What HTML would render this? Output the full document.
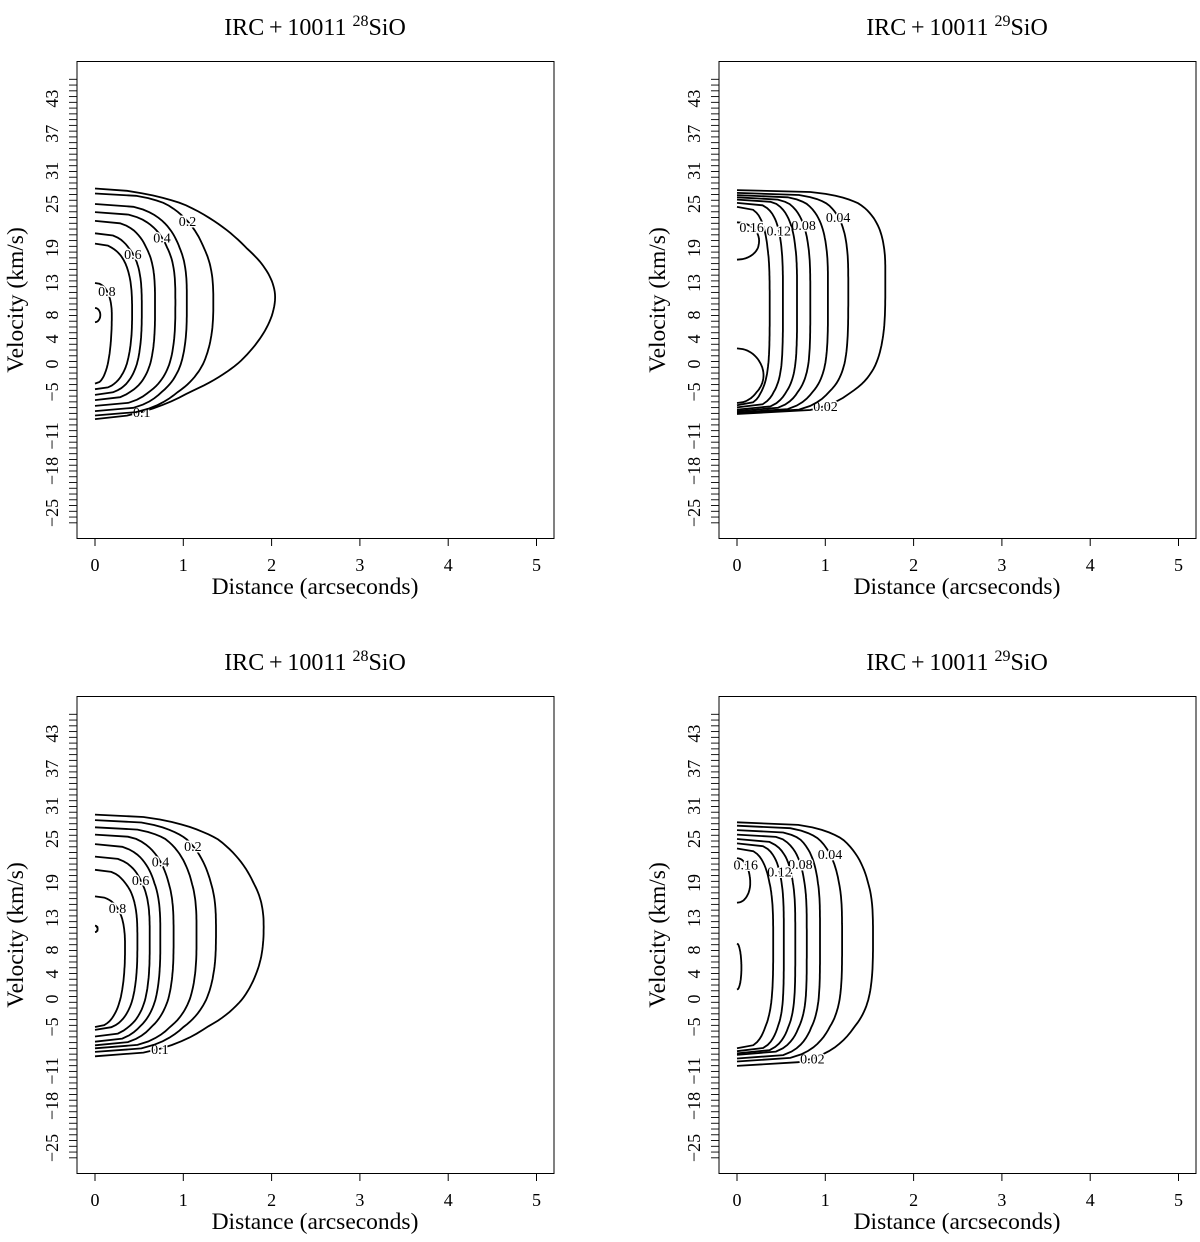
<!DOCTYPE html>
<html><head><meta charset="utf-8">
<style>
html,body{margin:0;padding:0;background:#fff;}
svg{display:block;font-family:"Liberation Serif","Times New Roman",serif;}
</style></head>
<body>
<svg id="fig" width="1200" height="1242" viewBox="0 0 1200 1242" xmlns="http://www.w3.org/2000/svg"></svg>
<script>
// ---- data ----
const xTickValues = [0,1,2,3,4,5];
const yTickLabels = ["43","37","31","25","19","13","8","4","0","\u22125","\u221211","\u221218","\u221225"];
const yTickVel = [43,37,31,25,19,13,8,4,0,-5,-11,-18,-25];
const panelTitles = ["28","29","28","29"];

// Top-left 28SiO contours
const tlLevels = ["0.1","0.2","0.3","0.4","0.5","0.6","0.7","0.8","0.9"];
const tlTop    = [27.8,26.9,25.0,23.9,22.7,21.0,19.6,13.0,9.1];
const tlBot    = [-8.7,-8.2,-7.6,-6.9,-6.1,-5.4,-4.5,-3.5,6.8];
const tlMid    = [10.8,10.0,10.0,10.0,9.5,9.0,8.5,8.0,8.0];
const tlDmax   = [2.04,1.34,1.04,0.91,0.68,0.53,0.42,0.19,0.06];
const tlShape  = [1.8,2.6,3.0,3.0,3.0,2.8,2.6,2.2,2];

// Top-right 29SiO contours
const trLevels = ["0.02","0.04","0.06","0.08","0.1","0.12","0.14","0.16","0.16"];
const trTop    = [27.5,27.0,26.6,26.2,25.8,25.2,24.6,22.5,2.5];
const trBot    = [-8.0,-7.9,-7.8,-7.6,-7.4,-7.1,-6.8,17.0,-6.5];
const trMid    = [14.0,12.0,11.0,10.0,10.0,10.0,9.0,20.0,-2.0];
const trDmax   = [1.68,1.26,1.03,0.83,0.68,0.52,0.37,0.25,0.30];
const trShape  = [3.5,4,4,4,4,4,3.5,2,2];

// Bottom-left 28SiO contours
const blLevels = ["0.1","0.2","0.3","0.4","0.5","0.6","0.7","0.8","0.9"];
const blTop    = [29.4,28.4,27.1,25.8,24.3,22.6,20.8,16.7,11.8];
const blBot    = [-9.0,-8.4,-7.9,-7.5,-7.0,-6.3,-5.4,-5.0,10.8];
const blMid    = [11.6,11.0,10.5,10.2,10.0,9.8,9.5,8.6,11.3];
const blDmax   = [1.91,1.37,1.15,0.89,0.74,0.62,0.48,0.34,0.03];
const blShape  = [2.3,2.8,3.0,3.0,3.0,3.0,2.8,2.4,2];

// Bottom-right 29SiO contours
const brLevels = ["0.02","0.04","0.06","0.08","0.1","0.12","0.14","0.16","0.16"];
const brTop    = [28.0,27.4,26.6,25.8,25.0,24.4,23.7,22.4,9.0];
const brBot    = [-10.3,-9.7,-9.3,-8.8,-8.6,-8.3,-7.9,15.6,1.5];
const brMid    = [9.9,9.5,9.5,9.0,9.0,9.0,9.0,19.0,5.0];
const brDmax   = [1.54,1.19,0.94,0.79,0.66,0.53,0.41,0.15,0.05];
const brShape  = [3.2,3.6,4,4,4,4,3.2,2,2];

// ---- layout ----
const NS="http://www.w3.org/2000/svg";
const svg=document.getElementById('fig');
const yTickPos=[98.6,133.8,170.7,204,248,283,315,339,364,392,436,471,513];
function mk(tag,attrs,parent){const e=document.createElementNS(NS,tag);for(const k in attrs)e.setAttribute(k,attrs[k]);(parent||svg).appendChild(e);return e;}
function xS(d){return 95+d*88.3;}
function yS(v){
  for(let i=0;i<yTickVel.length-1;i++){
    const a=yTickVel[i],b=yTickVel[i+1];
    if(v<=a&&v>=b){return yTickPos[i]+(a-v)/(a-b)*(yTickPos[i+1]-yTickPos[i]);}
  }
  if(v>yTickVel[0])return yTickPos[0]-(v-yTickVel[0])*5.8;
  return yTickPos[yTickPos.length-1]+(yTickVel[yTickVel.length-1]-v)*5.8;
}
const panels=[
 {ox:0,oy:0,lv:tlLevels,t:tlTop,b:tlBot,m:tlMid,d:tlDmax,p:tlShape,name:'panel-top-left'},
 {ox:642,oy:0,lv:trLevels,t:trTop,b:trBot,m:trMid,d:trDmax,p:trShape,name:'panel-top-right'},
 {ox:0,oy:635,lv:blLevels,t:blTop,b:blBot,m:blMid,d:blDmax,p:blShape,name:'panel-bottom-left'},
 {ox:642,oy:635,lv:brLevels,t:brTop,b:brBot,m:brMid,d:brDmax,p:brShape,name:'panel-bottom-right'}
];
panels.forEach((P,pi)=>{
  const g=mk('g',{transform:`translate(${P.ox},${P.oy})`});
  
  
  const t=mk('text',{x:315,y:35,'text-anchor':'middle','font-size':24},g);
  
  
  t.textContent='IRC\u2009+\u200910011 ';
  const sup=mk('tspan',{'font-size':16,dy:-9},t);sup.textContent=panelTitles[pi];
  const rest=mk('tspan',{dy:9},t);rest.textContent='SiO';
  const box=mk('rect',{x:77,y:61.5,width:477,height:477,fill:'none',stroke:'#000','stroke-width':1},g);
  
  
  xTickValues.forEach(v=>{
    mk('line',{x1:xS(v),x2:xS(v),y1:538.5,y2:546,stroke:'#000'},g);
    const tl=mk('text',{x:xS(v),y:571,'text-anchor':'middle','font-size':18},g);
    
    
    tl.textContent=v;
  });
  const xt=mk('text',{x:315,y:594,'text-anchor':'middle','font-size':23.5},g);
  
  
  xt.textContent='Distance (arcseconds)';
  for(let i=0;i<=77;i++){const y=79.3+i*5.76;mk('line',{x1:69,x2:77,y1:y,y2:y,stroke:'#000','stroke-width':0.9},g);}
  mk('line',{x1:77,x2:77,y1:79,y2:522,stroke:'#000'},g);
  yTickLabels.forEach((lab,i)=>{
    const y=yS(yTickVel[i]);
    const tl=mk('text',{x:0,y:0,'text-anchor':'middle','font-size':18,transform:`translate(58,${y}) rotate(-90)`},g);
    
    
    tl.textContent=lab;
  });
  const yt=mk('text',{x:0,y:0,'text-anchor':'middle','font-size':23.5,transform:'translate(23,300) rotate(-90)'},g);
  
  
  yt.textContent='Velocity (km/s)';
  P.lv.forEach((lev,k)=>{
    const pts=[];const N=40;
    for(let i=N;i>=0;i--){const s=i/N;const d=P.d[k]*Math.pow(Math.max(0,1-Math.pow(s,P.p[k])),1/P.p[k]);pts.push([xS(d),yS(P.m[k]+(P.t[k]-P.m[k])*s)]);}
    for(let i=1;i<=N;i++){const s=i/N;const d=P.d[k]*Math.pow(Math.max(0,1-Math.pow(s,P.p[k])),1/P.p[k]);pts.push([xS(d),yS(P.m[k]-(P.m[k]-P.b[k])*s)]);}
    const path=mk('path',{d:'M'+pts.map(q=>q[0].toFixed(1)+','+q[1].toFixed(1)).join('L'),fill:'none',stroke:'#000','stroke-width':1.8},g);
    
    
    if(k%2===1||k===0){
      const idx=k===0?pts.length-3:Math.round(N*0.25);
      const q=pts[idx];
      const lb=mk('text',{x:q[0],y:q[1]+5,'text-anchor':'middle','font-size':14,stroke:'#fff','stroke-width':3,'paint-order':'stroke'},g);
      
      
      lb.textContent=lev;
    }
  });
});
</script>
</body></html>
